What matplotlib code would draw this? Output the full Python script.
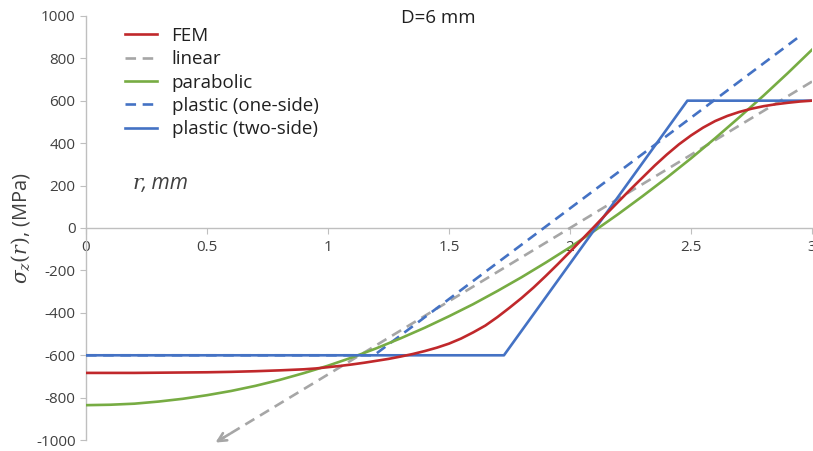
import matplotlib
matplotlib.use("Agg")
import matplotlib.pyplot as plt
import numpy as np

plt.rcParams['font.family'] = ['Open Sans', 'DejaVu Sans']
plt.rcParams['mathtext.fontset'] = 'dejavuserif'
plt.rcParams['axes.unicode_minus'] = False

# FEM curve
fem_r = [0.0, 0.1, 0.2, 0.3, 0.4, 0.5, 0.6, 0.7, 0.8, 0.9, 0.95,
         1.0, 1.05, 1.1, 1.15, 1.2, 1.25, 1.3, 1.35, 1.4, 1.45, 1.5, 1.55,
         1.6, 1.65, 1.7, 1.75, 1.8, 1.85, 1.9, 1.95, 2.0, 2.05, 2.1, 2.15,
         2.2, 2.25, 2.3, 2.35, 2.4, 2.45, 2.5, 2.55, 2.6, 2.65, 2.7, 2.75,
         2.8, 2.85, 2.9, 2.95, 3.0]
fem = [-683, -683, -683, -682, -681, -680, -678, -675, -671, -666, -662,
       -656, -650, -643, -635, -626, -617, -606, -594, -580, -564, -545, -521,
       -492, -460, -420, -376, -330, -280, -226, -170, -112, -53, 6, 66,
       124, 182, 238, 294, 346, 394, 436, 473, 504, 528, 547, 562,
       574, 583, 590, 596, 600]

# parabolic curve
par_r = [0.0, 0.1, 0.2, 0.3, 0.4, 0.5, 0.6, 0.7, 0.8, 0.9, 1.0, 1.1, 1.2, 1.3, 1.4, 1.5,
         1.6, 1.7, 1.8, 1.9, 2.0, 2.1, 2.2, 2.3, 2.4, 2.5, 2.6, 2.7, 2.8, 2.9, 3.0]
parabolic = [-835, -833, -828, -818, -805, -788, -768, -744, -716, -684, -649, -610, -567,
             -520, -470, -416, -359, -297, -232, -163, -91, -14, 66, 150, 237, 328, 423, 522,
             624, 730, 840]

linear_r = [3.0, 0.525]
linear_s = [690, -1018]
one_side_r = [0.0, 1.19, 2.945]
one_side_s = [-600, -600, 900]
two_side_r = [0.0, 1.727, 2.485, 3.0]
two_side_s = [-600, -600, 600, 600]

x_ticks = [0, 0.5, 1, 1.5, 2, 2.5, 3]
x_tick_labels = ['0', '0.5', '1', '1.5', '2', '2.5', '3']
y_ticks = list(range(-1000, 1001, 200))

fig = plt.figure(figsize=(8.13, 4.51), dpi=100)
ax = fig.add_axes([86 / 813, 0.024, 726 / 813, 0.941])

c_fem = '#C0282B'
c_lin = '#A6A6A6'
c_par = '#77AC43'
c_blue = '#4472C4'
lw = 1.9

ax.plot(fem_r, fem, color=c_fem, lw=lw, label='FEM', zorder=5)
ax.plot(linear_r, linear_s, color=c_lin, lw=lw, ls=(0, (4, 2.5)), label='linear', zorder=3)
ax.annotate('', xy=(linear_r[1], linear_s[1]),
            xytext=(linear_r[1] + 0.08, linear_s[1] + 0.08 * 690),
            arrowprops=dict(arrowstyle='->', color=c_lin, lw=lw, mutation_scale=15),
            annotation_clip=False, zorder=3)
ax.plot(par_r, parabolic, color=c_par, lw=lw, label='parabolic', zorder=4)
ax.plot(one_side_r, one_side_s, color=c_blue, lw=lw, ls=(0, (4, 2.5)),
        label='plastic (one-side)', zorder=3)
ax.plot(two_side_r, two_side_s, color=c_blue, lw=lw, label='plastic (two-side)', zorder=4)

ax.set_xlim(0, 3)
ax.set_ylim(-1000, 1000)
ax.set_yticks(y_ticks)
ax.set_xticks(x_ticks)
ax.set_xticklabels(x_tick_labels)

for s in ['top', 'right']:
    ax.spines[s].set_visible(False)
ax.spines['bottom'].set_position(('data', 0))
for s in ['bottom', 'left']:
    ax.spines[s].set_color('#BFBFBF')
    ax.spines[s].set_linewidth(1.0)
ax.tick_params(axis='both', colors='#BFBFBF', labelcolor='#404040', labelsize=11, length=4)
ax.tick_params(axis='x', pad=5)

ax.set_ylabel(r'$\sigma_z(r)$, (MPa)', fontsize=14.5, color='#404040', labelpad=3)
ax.text(0.194, 208, 'r', family='DejaVu Serif', style='italic', fontsize=15,
        color='#404040', va='center')
ax.text(0.232, 208, ', mm', style='italic', fontsize=15, color='#404040', va='center')
ax.text(1.457, 988, 'D=6 mm', fontsize=13.5, color='#202020', ha='center', va='center')

leg = ax.legend(loc='upper left', bbox_to_anchor=(0.03, 1.014), frameon=False, fontsize=13.5,
                handlelength=1.7, labelspacing=0.29, handletextpad=0.8)
for t in leg.get_texts():
    t.set_color('#202020')

fig.savefig('out.png', dpi=100)
